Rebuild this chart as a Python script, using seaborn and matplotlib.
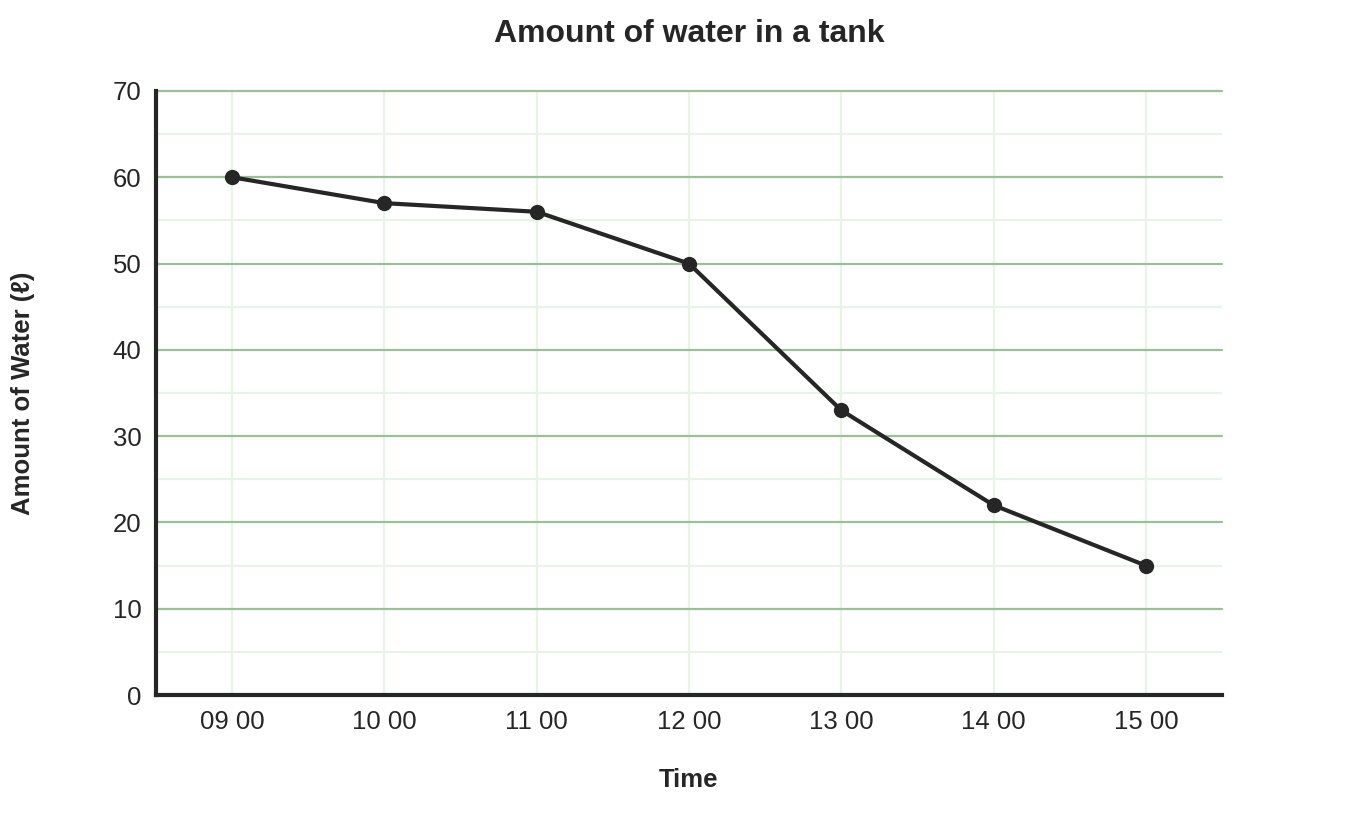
import matplotlib
matplotlib.use("Agg")
import matplotlib.pyplot as plt
import seaborn as sns
import pandas as pd
from matplotlib.ticker import MultipleLocator

# chart data
times = ["09 00", "10 00", "11 00", "12 00", "13 00", "14 00", "15 00"]
water = [60, 57, 56, 50, 33, 22, 15]

df = pd.DataFrame({"Time": times, "Water": water})

sns.set_theme(style="white")
plt.rcParams["font.family"] = ["Liberation Sans", "DejaVu Sans"]

fig = plt.figure(figsize=(13.6, 8.4), dpi=100)
ax = fig.add_axes([0.1147, 0.1726, 0.7838, 0.7191])

sns.lineplot(data=df, x="Time", y="Water", ax=ax, color="#262626",
             linewidth=3, marker="o", markersize=11, markeredgewidth=0,
             sort=False, zorder=5)

ax.set_xlim(-0.5, len(times) - 0.5)
ax.set_ylim(0, 70)
ax.yaxis.set_major_locator(MultipleLocator(10))
ax.yaxis.set_minor_locator(MultipleLocator(5))

# grid: strong green at tens, faint at fives and categories
ax.grid(which="major", axis="y", color="#9bbf9b", linewidth=1.6)
ax.grid(which="minor", axis="y", color="#eaf3ea", linewidth=1.6)
ax.grid(which="major", axis="x", color="#eaf3ea", linewidth=1.6)
ax.set_axisbelow(True)
for gl in ax.yaxis.get_gridlines():
    gl.set_clip_on(False)

for side in ["top", "right"]:
    ax.spines[side].set_visible(False)
ax.spines["left"].set_linewidth(3)
ax.spines["bottom"].set_linewidth(3)
ax.spines["left"].set_color("#262626")
ax.spines["bottom"].set_color("#262626")

ax.tick_params(which="both", length=0, labelsize=18.5, colors="#262626")
ax.tick_params(axis="x", pad=11)
ax.tick_params(axis="y", pad=10.5)

ax.set_xlabel("Time", fontsize=18.5, fontweight="bold", color="#262626", labelpad=24)
ax.set_ylabel("Amount of Water (ℓ)", fontsize=18.5, fontweight="bold", color="#262626", labelpad=56)
ax.set_title("Amount of water in a tank", fontsize=23, fontweight="bold", color="#262626", pad=35)

fig.savefig("out.png", dpi=100)
